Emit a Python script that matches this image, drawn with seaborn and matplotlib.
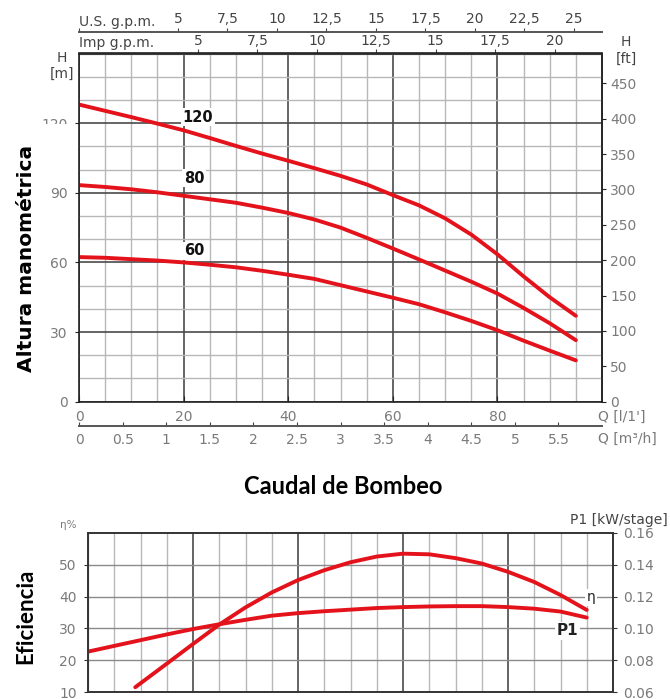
import matplotlib
matplotlib.use("Agg")
import matplotlib.pyplot as plt
from matplotlib.patches import Rectangle
from matplotlib.ticker import MultipleLocator, FixedLocator
import pandas as pd
import seaborn as sns

# ---------------- data ----------------
Q_LPM = [0, 5, 10, 15, 20, 25, 30, 35, 40, 45, 50, 55, 60, 65, 70, 75, 80, 85, 90, 95]
H_120 = [128, 125.3, 122.6, 119.8, 116.9, 113.6, 110.2, 106.9, 103.8, 100.6,
         97.3, 93.6, 89, 84.6, 79, 72, 63.5, 54, 45, 37]
H_80 = [93.3, 92.5, 91.5, 90.2, 88.7, 87.2, 85.7, 83.6, 81.3, 78.5,
        75, 70.6, 66, 61.3, 56.5, 51.7, 46.6, 40.4, 33.8, 26.5]
H_60 = [62.3, 62, 61.4, 60.8, 60, 59, 57.9, 56.4, 54.7, 52.9,
        50.2, 47.5, 44.8, 42, 38.5, 34.8, 30.8, 26.3, 22, 17.8]
STAGES = ["120", "80", "60"]

Q_ETA = [9, 15, 20, 25, 30, 35, 40, 45, 50, 55, 60, 65, 70, 75, 80, 85, 90, 95]
ETA = [11.5, 18.9, 25.1, 31.2, 36.6, 41.3, 45.2, 48.3, 50.8, 52.6,
       53.5, 53.3, 52.1, 50.4, 47.8, 44.6, 40.5, 35.8]
P1_KW = [0.0854, 0.089, 0.0926, 0.0962, 0.0996, 0.1026, 0.1054, 0.108, 0.1096, 0.1108,
         0.1118, 0.1128, 0.1134, 0.1138, 0.114, 0.114, 0.1134, 0.1124, 0.1106, 0.1068]

Q_TICKS = [0, 20, 40, 60, 80]
H_TICKS = [0, 30, 60, 90, 120]
FT_TICKS = [0, 50, 100, 150, 200, 250, 300, 350, 400, 450]
US_TICKS = [0, 5, 7.5, 10, 12.5, 15, 17.5, 20, 22.5, 25]
US_LABELS = ["", "5", "7,5", "10", "12,5", "15", "17,5", "20", "22,5", "25"]
IMP_TICKS = [5, 7.5, 10, 12.5, 15, 17.5, 20]
IMP_LABELS = ["5", "7,5", "10", "12,5", "15", "17,5", "20"]
M3_TICKS = [0, 0.5, 1, 1.5, 2, 2.5, 3, 3.5, 4, 4.5, 5, 5.5]
M3_LABELS = ["0", "0.5", "1", "1.5", "2", "2.5", "3", "3.5", "4", "4.5", "5", "5.5"]
ETA_TICKS = [10, 20, 30, 40, 50]
P1_TICKS = [0.06, 0.08, 0.10, 0.12, 0.14, 0.16]
P1_LABELS = ["0.06", "0.08", "0.10", "0.12", "0.14", "0.16"]

# ---------------- style ----------------
sns.set_style("white")
plt.rcParams['font.family'] = ['DejaVu Sans']

W, H = 670, 699
fig = plt.figure(figsize=(6.7, 6.99), dpi=100)


def fx(px):
    return px / W


def fy(py):
    return 1 - py / H


RED = "#e3121b"
MAJ = "#4a4a4a"
MIN = "#b8b8b8"
LBL = "#7a7a7a"
DARK = "#444444"
LW = 2.8

# ================= top chart =================
top, bot, left, right = 53.5, 401.7, 79, 602
ax = fig.add_axes([fx(left), fy(bot), (right - left) / W, (bot - top) / H])
ax.set_xlim(0, 100)
ax.set_ylim(0, 150)
ax.set_axisbelow(True)
ax.xaxis.set_major_locator(FixedLocator(Q_TICKS))
ax.xaxis.set_minor_locator(MultipleLocator(5))
ax.yaxis.set_major_locator(FixedLocator(H_TICKS))
ax.yaxis.set_minor_locator(MultipleLocator(10))
ax.grid(which='major', color=MAJ, lw=1.2)
ax.grid(which='minor', color=MIN, lw=1.0)
for s in ax.spines.values():
    s.set_color("#222222")
    s.set_linewidth(1.2)
ax.tick_params(axis='x', which='major', direction='in', length=4, pad=6,
               labelsize=10, labelcolor=LBL, color="#222222")
ax.tick_params(axis='x', which='minor', direction='in', length=2.5, color="#222222")
ax.tick_params(axis='y', which='major', direction='out', length=3, pad=5,
               labelsize=10, labelcolor=LBL, color="#222222", left=True)
ax.tick_params(axis='y', which='minor', length=0)
ax.tick_params(bottom=True, left=True)

df_h = pd.DataFrame({"Q": Q_LPM * 3, "H": H_120 + H_80 + H_60,
                     "stage": [STAGES[0]] * len(Q_LPM) + [STAGES[1]] * len(Q_LPM) + [STAGES[2]] * len(Q_LPM)})
sns.lineplot(data=df_h, x="Q", y="H", hue="stage", palette=[RED, RED, RED],
             ax=ax, lw=LW, legend=False, sort=False, estimator=None,
             solid_capstyle='round')
ax.set_xlabel("")
ax.set_ylabel("")

for lab, (qx, hy) in zip(STAGES, [(22.75, 122.5), (22.0, 96.2), (22.0, 65.1)]):
    ax.text(qx, hy, lab, ha='center', va='center', fontsize=10.5, fontweight='bold',
            color='#111111', bbox=dict(boxstyle='square,pad=0.1', fc='white', ec='none'))

# right: ft
sec_ft = ax.secondary_yaxis('right', functions=(lambda m: m * 3.28084, lambda f: f / 3.28084))
sec_ft.set_yticks(FT_TICKS)
sec_ft.tick_params(direction='out', length=3, pad=3, labelsize=10, labelcolor=LBL, color="#222222")
sec_ft.spines['right'].set_color("#222222")
sec_ft.spines['right'].set_linewidth(1.2)

# top: Imp gpm
sec_imp = ax.secondary_xaxis('top', functions=(lambda q: q / 4.54609, lambda g: g * 4.54609))
sec_imp.set_xticks(IMP_TICKS, labels=IMP_LABELS)
sec_imp.tick_params(direction='out', length=3, pad=1, labelsize=10, labelcolor=DARK, color="#444444")
sec_imp.spines['top'].set_color("#222222")
sec_imp.spines['top'].set_linewidth(1.2)

# top: US gpm
us_loc = 1 + (top - 32) / (bot - top)
sec_us = ax.secondary_xaxis(us_loc, functions=(lambda q: q / 3.78541, lambda g: g * 3.78541))
sec_us.set_xticks(US_TICKS, labels=US_LABELS)
sec_us.tick_params(direction='out', length=3, pad=1.5, labelsize=10, labelcolor=DARK, color="#444444")
sec_us.spines['top'].set_color("#555555")
sec_us.spines['top'].set_linewidth(1.4)

# bottom: m3/h
m3_loc = -(425.7 - bot) / (bot - top)
sec_m3 = ax.secondary_xaxis(m3_loc, functions=(lambda q: q * 0.06, lambda m: m / 0.06))
sec_m3.set_xticks(M3_TICKS, labels=M3_LABELS)
sec_m3.tick_params(direction='in', length=3, pad=5, labelsize=10, labelcolor=LBL, color="#444444")
sec_m3.spines['bottom'].set_color("#555555")
sec_m3.spines['bottom'].set_linewidth(1.4)

fig.text(fx(79), fy(22), "U.S. g.p.m.", ha='left', va='center', fontsize=10, color=DARK)
fig.text(fx(79), fy(43), "Imp g.p.m.", ha='left', va='center', fontsize=10, color=DARK,
         bbox=dict(boxstyle='square,pad=0.05', fc='white', ec='none'))
fig.text(fx(62), fy(58), "H", ha='center', va='center', fontsize=10, color=DARK)
fig.text(fx(62), fy(74), "[m]", ha='center', va='center', fontsize=10, color=DARK)
fig.text(fx(626), fy(42), "H", ha='center', va='center', fontsize=10, color=DARK)
fig.text(fx(626), fy(59), "[ft]", ha='center', va='center', fontsize=10, color=DARK)
fig.text(fx(598), fy(417), "Q [l/1']", ha='left', va='center', fontsize=10, color=LBL)
fig.text(fx(598), fy(439), "Q [m³/h]", ha='left', va='center', fontsize=10, color=LBL)

# white box behind the rotated label (also hides lower half of the "120" tick label)
fig.patches.append(Rectangle((0, fy(381)), fx(38), (381 - 121) / H, transform=fig.transFigure,
                             fc='white', ec='none', zorder=5))
fig.patches.append(Rectangle((0, fy(131)), fx(70), (131 - 124.5) / H, transform=fig.transFigure,
                             fc='white', ec='none', zorder=5))
fig.text(fx(27), fy(258), "Altura manométrica", rotation=90, ha='center', va='center',
         fontsize=14.5, fontweight='bold', color='black', zorder=6)

fig.text(fx(343), fy(487), "Caudal de Bombeo", ha='center', va='center',
         fontsize=17, fontweight='bold', color='black', family=['Lato', 'DejaVu Sans'])

# ================= bottom chart =================
btop, bbot, bleft, bright = 533, 692, 88, 613
ax2 = fig.add_axes([fx(bleft), fy(bbot), (bright - bleft) / W, (bbot - btop) / H])
ax2.set_xlim(0, 100)
ax2.set_ylim(10, 60)
ax2.set_axisbelow(True)
ax2.xaxis.set_major_locator(FixedLocator([20, 40, 60, 80]))
ax2.xaxis.set_minor_locator(MultipleLocator(5))
ax2.yaxis.set_major_locator(FixedLocator(ETA_TICKS))
ax2.yaxis.set_minor_locator(FixedLocator([60]))
ax2.grid(axis='x', which='major', color=MAJ, lw=1.2)
ax2.grid(axis='x', which='minor', color=MIN, lw=1.0)
ax2.grid(axis='y', which='major', color="#8a8a8a", lw=1.0)
for s in ax2.spines.values():
    s.set_color("#333333")
    s.set_linewidth(1.2)
ax2.tick_params(axis='x', which='both', length=0, labelbottom=False)
ax2.tick_params(axis='y', which='major', direction='out', length=3, pad=5,
                labelsize=10, labelcolor=LBL, color="#333333", left=True)
ax2.tick_params(axis='y', which='minor', length=0)

sns.lineplot(x=Q_ETA, y=ETA, ax=ax2, color=RED, lw=LW, sort=False, estimator=None,
             solid_capstyle='round')

ax2r = ax2.twinx()
ax2r.set_ylim(0.06, 0.16)
sns.lineplot(x=Q_LPM, y=P1_KW, ax=ax2r, color=RED, lw=LW, sort=False, estimator=None,
             solid_capstyle='round')
ax2r.set_yticks(P1_TICKS, labels=P1_LABELS)
ax2r.tick_params(axis='y', direction='out', length=3, pad=4, labelsize=10,
                 labelcolor=LBL, color="#333333", right=True)
ax2r.grid(False)
ax2r.set_ylabel("")
ax2.set_xlabel("")
ax2.set_ylabel("")
for s in ax2r.spines.values():
    s.set_color("#333333")
    s.set_linewidth(1.2)

ax2.text(95.8, 39.8, "η", ha='center', va='center', fontsize=10, color='#222222',
         bbox=dict(boxstyle='square,pad=0.1', fc='white', ec='none'))
ax2.text(91.3, 29.3, "P1", ha='center', va='center', fontsize=11, fontweight='bold',
         color='#222222', bbox=dict(boxstyle='square,pad=0.1', fc='white', ec='none'))

fig.text(fx(68), fy(525), "η%", ha='center', va='center', fontsize=7.5, color=LBL)
fig.text(fx(668), fy(520), "P1 [kW/stage]", ha='right', va='center', fontsize=10, color=DARK)
fig.text(fx(26), fy(616), "Eficiencia", rotation=90, ha='center', va='center',
         fontsize=16, fontweight='bold', color='black', family=['Lato', 'DejaVu Sans'])

fig.savefig("out.png", dpi=100)
